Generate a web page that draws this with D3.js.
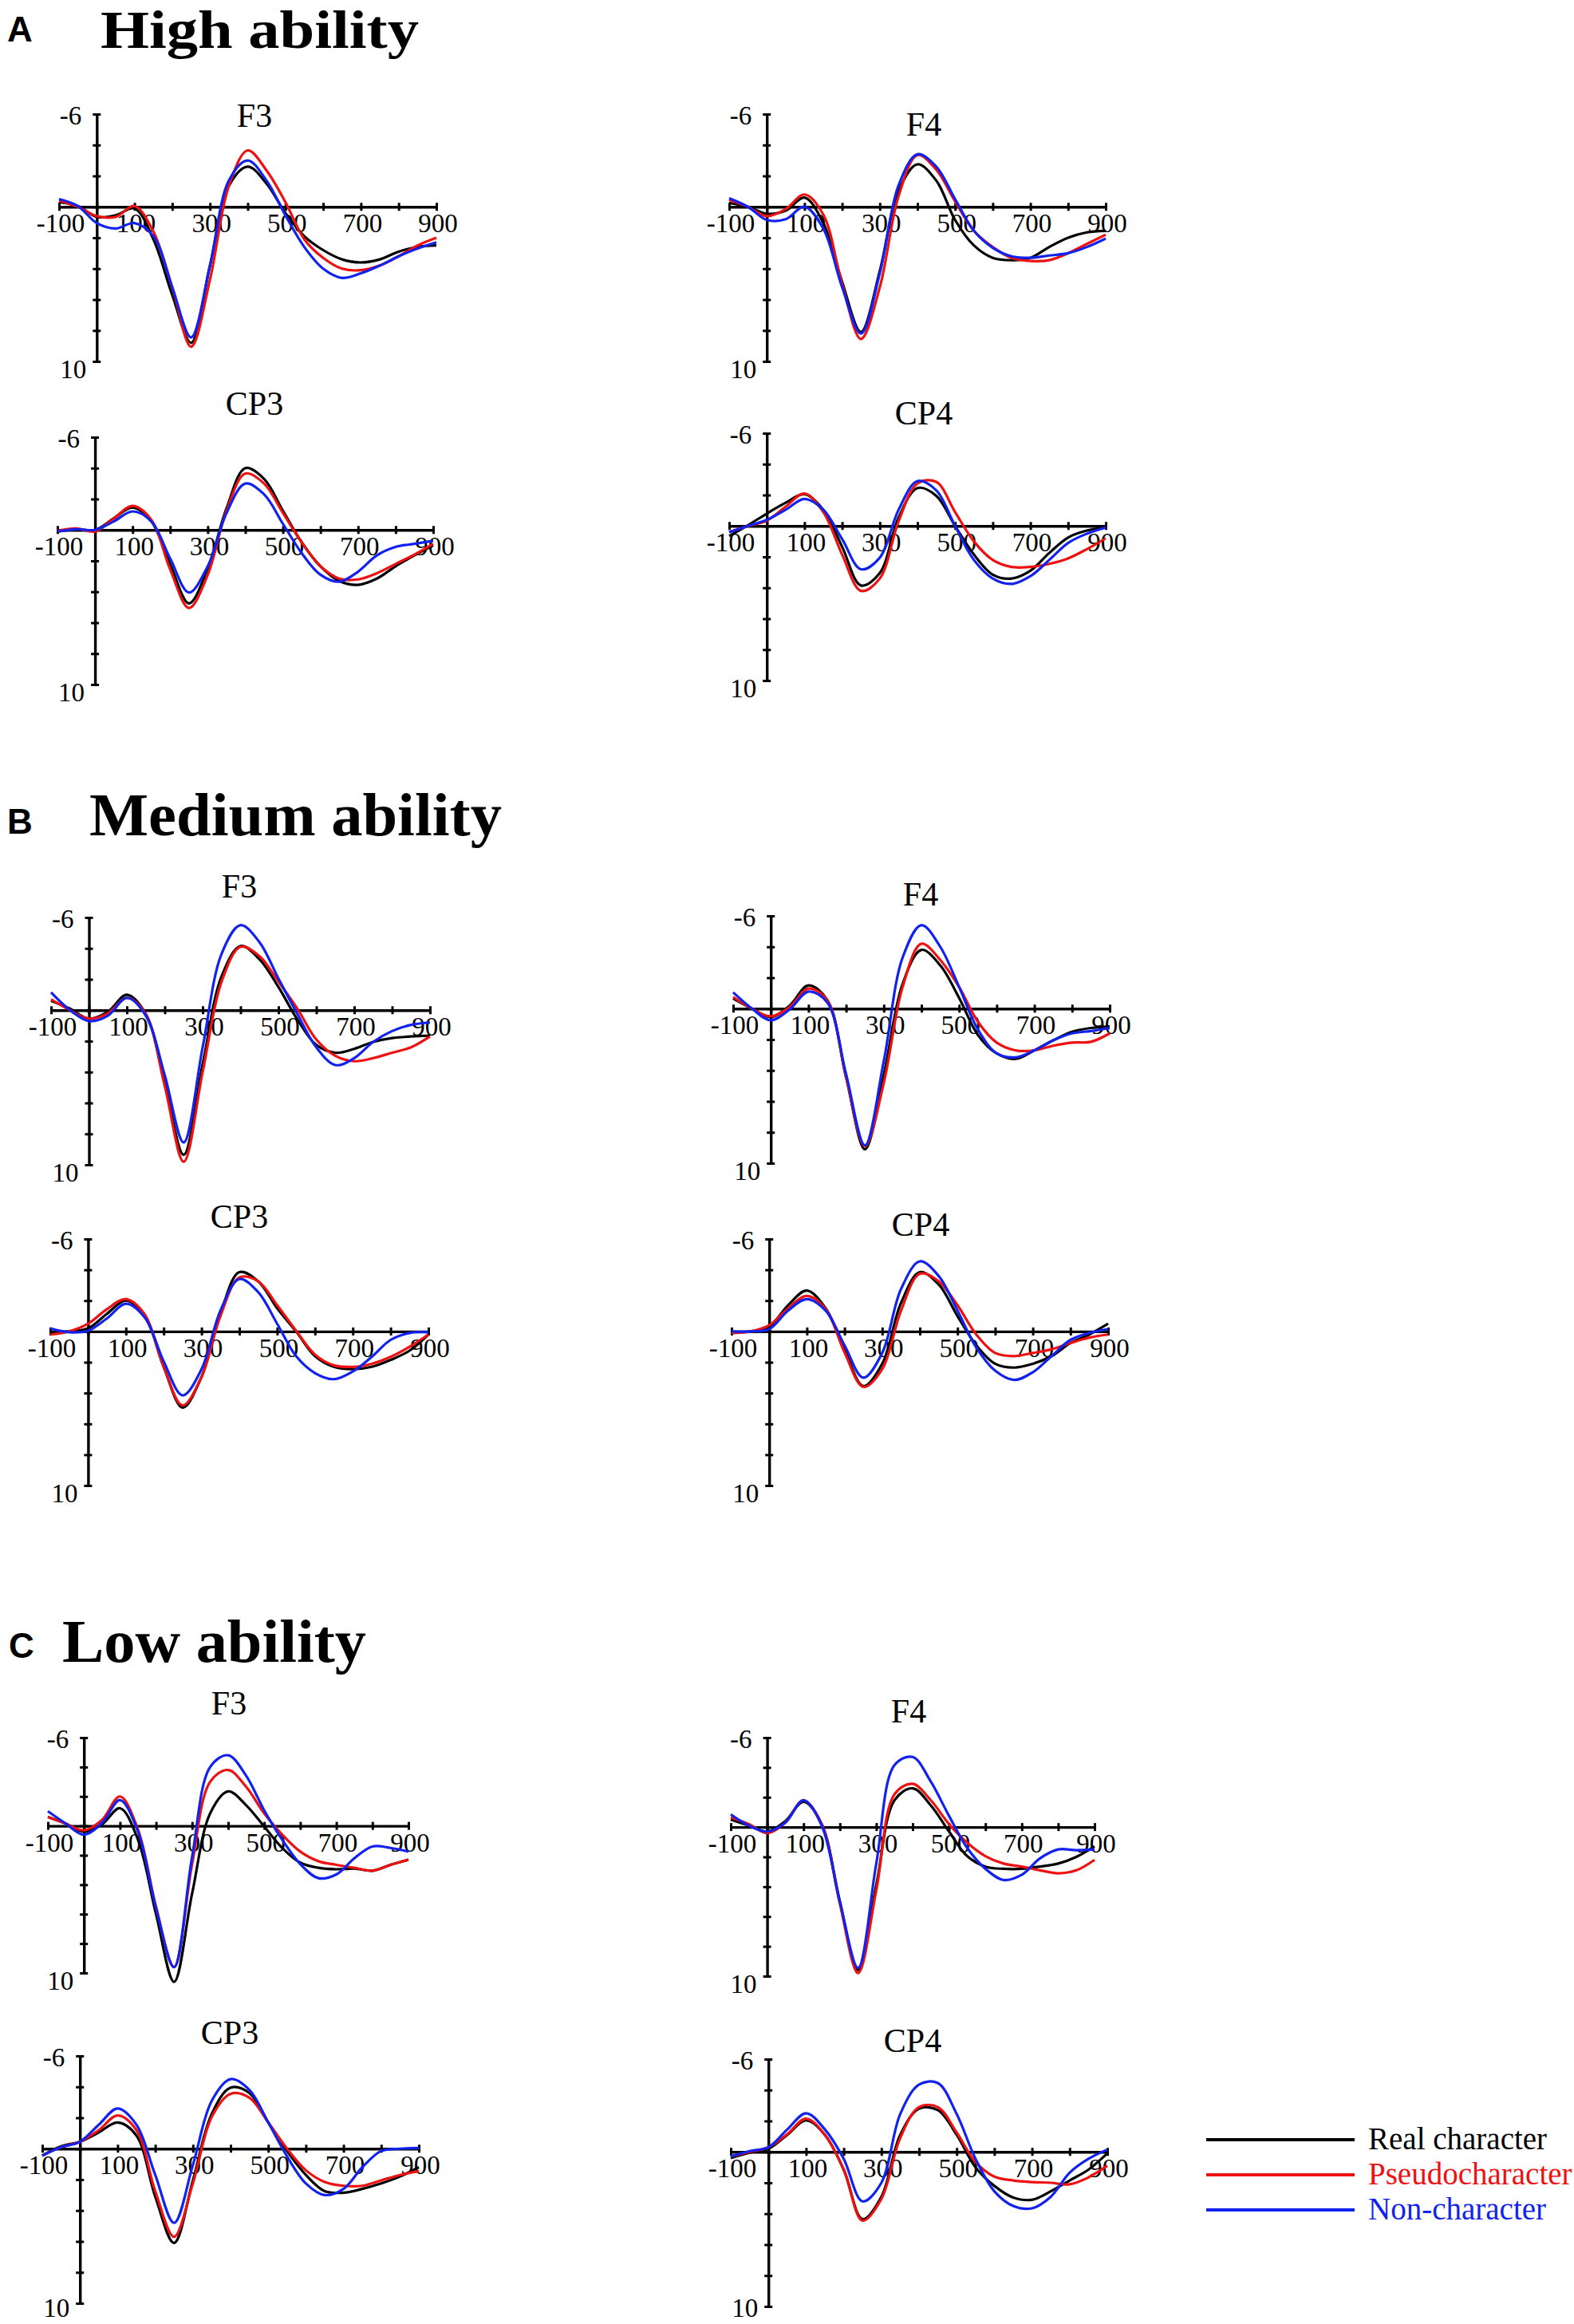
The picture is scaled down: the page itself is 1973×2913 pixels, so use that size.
<!DOCTYPE html>
<html>
<head>
<meta charset="utf-8">
<script src="https://cdn.jsdelivr.net/npm/d3@7"></script>
<style>
  body { margin: 0; background: #fff; }
  svg { display: block; }
</style>
</head>
<body>
<svg id="fig" width="1973" height="2913"></svg>
<script>
// sample times (ms) shared by every waveform
const times = [-100, -50, 0, 50, 100, 150, 200, 250, 300, 350, 400, 450, 500, 550, 600, 650, 700, 750, 800, 850, 900];
const conditions = ['Real character', 'Pseudocharacter', 'Non-character'];
const xTicks = [-100, 0, 100, 200, 300, 400, 500, 600, 700, 800, 900];
const xLabels = [-100, 100, 300, 500, 700, 900];
const yTicks = [-6, -4, -2, 0, 2, 4, 6, 8, 10];

// amplitudes (uV, negative up); rows = real, pseudo, non-character
const highF3 = [
  [-0.3, -0.05, 0.65, 0.55, 0.1, 2.1, 5.7, 8.8, 3.8, -1.35, -2.6, -1.5, 0.4, 1.9, 2.8, 3.4, 3.6, 3.4, 2.9, 2.6, 2.5],
  [-0.4, 0, 0.6, 0.65, -0.05, 1.6, 5.2, 9.05, 4.7, -1.35, -3.65, -2.35, -0.3, 2.1, 3.3, 4.0, 4.1, 3.8, 3.2, 2.5, 2.0],
  [-0.5, -0.05, 1.05, 1.4, 1.05, 1.9, 5.2, 8.45, 3.8, -1.7, -3.0, -1.7, 0.55, 2.6, 4.0, 4.6, 4.3, 3.8, 3.2, 2.7, 2.3]
];
const highF4 = [
  [-0.25, 0, 0.45, 0.25, -0.6, 1.05, 4.85, 8.1, 4.15, -1.05, -2.75, -1.7, 0.85, 2.5, 3.3, 3.45, 3.3, 2.6, 2.0, 1.65, 1.55],
  [-0.45, 0, 0.6, 0.15, -0.8, 0.5, 5.0, 8.55, 5.2, -0.7, -3.35, -2.4, -0.35, 1.55, 2.6, 3.3, 3.5, 3.45, 3.0, 2.4, 1.8],
  [-0.55, 0, 0.85, 0.8, 0, 1.4, 5.2, 8.2, 4.3, -1.4, -3.4, -2.6, -0.5, 1.55, 2.65, 3.2, 3.3, 3.15, 3.0, 2.6, 2.05]
];
const highCP3 = [
  [0.1, -0.05, 0, -0.75, -1.45, -0.55, 2.2, 4.75, 2.5, -1.4, -4.0, -3.3, -1.25, 0.8, 2.35, 3.3, 3.55, 3.15, 2.35, 1.65, 1.0],
  [0.05, -0.1, 0.1, -0.75, -1.55, -0.65, 2.55, 5.05, 2.9, -1.25, -3.65, -3.0, -1.1, 0.8, 2.35, 3.15, 3.2, 2.8, 2.2, 1.6, 0.9],
  [0.1, -0.05, 0, -0.55, -1.2, -0.55, 1.85, 4.05, 2.35, -1.1, -3.0, -2.3, -0.4, 1.5, 2.9, 3.35, 2.7, 1.65, 1.1, 0.9, 0.7]
];
const highCP4 = [
  [0.65, -0.05, -0.8, -1.5, -2.05, -1.05, 1.35, 3.85, 3.05, -0.55, -2.45, -1.95, 0, 1.85, 3.15, 3.4, 2.9, 1.75, 0.75, 0.3, 0.1],
  [0.4, 0, -0.35, -1.25, -2.1, -0.9, 1.85, 4.2, 3.4, -0.3, -2.75, -2.85, -0.9, 1.0, 2.2, 2.65, 2.65, 2.45, 2.1, 1.5, 0.8],
  [0.4, 0, -0.4, -1.05, -1.75, -1.05, 0.85, 2.8, 2.05, -1.05, -2.9, -2.3, 0, 2.2, 3.4, 3.75, 3.25, 2.2, 1.1, 0.5, 0.1]
];
const mediumF3 = [
  [-0.6, -0.1, 0.55, 0.1, -1.0, 0.25, 4.7, 9.35, 3.5, -2.2, -4.15, -3.3, -1.5, 0.6, 2.25, 2.75, 2.5, 2.05, 1.8, 1.7, 1.65],
  [-0.7, 0, 0.55, 0.2, -0.8, 0.25, 4.9, 9.8, 4.0, -1.85, -4.1, -3.5, -1.85, -0.1, 1.9, 2.95, 3.3, 3.1, 2.75, 2.4, 1.7],
  [-1.15, 0, 0.7, 0.35, -0.8, 0.35, 4.2, 8.55, 2.4, -3.65, -5.5, -4.4, -2.05, 0.25, 2.4, 3.55, 3.1, 2.05, 1.35, 0.95, 0.8]
];
const mediumF4 = [
  [-0.65, 0, 0.55, -0.2, -1.5, -0.55, 4.45, 9.1, 4.3, -1.6, -3.8, -2.8, -0.7, 1.7, 2.9, 3.25, 2.7, 2.05, 1.5, 1.25, 1.15],
  [-0.75, 0, 0.5, -0.1, -1.3, -0.55, 4.45, 8.9, 4.8, -1.4, -4.2, -3.15, -1.4, 0.85, 2.2, 2.7, 2.7, 2.4, 2.2, 2.15, 1.6],
  [-1.05, 0, 0.75, 0.05, -1.1, -0.4, 4.25, 8.85, 3.4, -3.3, -5.4, -4.0, -1.4, 1.35, 2.9, 3.15, 2.7, 2.05, 1.6, 1.45, 1.25]
];
const mediumCP3 = [
  [0.05, 0, -0.2, -1.15, -2.0, -1.0, 2.3, 4.95, 2.95, -1.15, -3.85, -3.25, -1.5, 0, 1.6, 2.3, 2.45, 2.3, 1.85, 1.25, 0.2],
  [0.2, 0, -0.5, -1.45, -2.1, -1.1, 2.3, 4.8, 2.95, -1.0, -3.5, -3.25, -1.7, -0.05, 1.5, 2.2, 2.3, 2.1, 1.65, 1.0, 0.2],
  [-0.2, 0.05, -0.05, -0.85, -1.8, -0.9, 1.95, 4.15, 2.45, -1.35, -3.4, -2.55, -0.5, 1.6, 2.7, 3.1, 2.6, 1.65, 0.55, 0.1, 0.05]
];
const mediumCP4 = [
  [0.05, 0, -0.3, -1.7, -2.65, -1.5, 1.15, 3.55, 2.1, -1.85, -3.85, -3.05, -1.0, 0.9, 2.1, 2.35, 2.1, 1.6, 0.75, 0.2, -0.5],
  [0.1, 0, -0.4, -1.5, -2.3, -1.45, 1.35, 3.6, 2.45, -1.35, -3.75, -3.25, -1.7, 0.2, 1.4, 1.6, 1.4, 1.15, 0.75, 0.4, 0.2],
  [0, 0, -0.15, -1.35, -2.1, -1.35, 0.9, 3.0, 1.4, -2.75, -4.55, -3.6, -1.35, 1.05, 2.55, 3.15, 2.65, 1.6, 0.55, 0.1, -0.15]
];
const lowF3 = [
  [-0.6, -0.15, 0.4, -0.1, -1.2, 0.95, 6.0, 10.6, 4.6, -0.85, -2.35, -1.4, 0.05, 1.5, 2.5, 2.85, 2.95, 2.9, 3.05, 2.65, 2.3],
  [-0.6, -0.15, 0.3, -0.4, -2.0, 0.25, 5.5, 9.6, 2.6, -3.0, -3.8, -2.65, -0.85, 0.6, 1.75, 2.4, 2.65, 2.85, 3.05, 2.65, 2.3],
  [-1.0, -0.15, 0.6, -0.2, -1.75, 0.4, 5.6, 9.6, 2.1, -4.0, -4.8, -3.4, -1.05, 0.95, 2.6, 3.55, 3.3, 2.2, 1.4, 1.5, 1.75]
];
const lowF4 = [
  [-0.5, -0.1, 0.3, -0.4, -1.7, -0.2, 5.0, 9.6, 3.9, -1.8, -2.6, -1.45, 0.3, 1.95, 2.65, 2.8, 2.8, 2.65, 2.45, 2.0, 1.3],
  [-0.65, -0.2, 0.4, -0.3, -1.8, -0.2, 5.15, 9.8, 4.25, -2.2, -2.9, -1.8, -0.2, 1.05, 1.95, 2.45, 2.65, 2.9, 3.1, 2.9, 2.2],
  [-0.85, -0.1, 0.3, -0.3, -1.8, -0.1, 5.0, 9.45, 2.45, -4.15, -4.7, -3.05, -0.75, 1.4, 2.8, 3.55, 3.2, 2.1, 1.5, 1.55, 1.5]
];
const lowCP3 = [
  [0.45, -0.15, -0.45, -1.05, -1.7, -0.85, 3.1, 6.1, 2.05, -2.25, -3.95, -3.6, -1.7, 0.15, 1.7, 2.75, 2.85, 2.6, 2.25, 1.8, 1.2],
  [0.45, -0.1, -0.45, -1.2, -2.15, -1.2, 2.75, 5.7, 2.25, -2.05, -3.55, -3.3, -1.7, 0, 1.4, 2.15, 2.4, 2.4, 2.05, 1.7, 1.45],
  [0.45, -0.1, -0.45, -1.55, -2.6, -1.55, 1.7, 4.8, 1.05, -3.1, -4.5, -3.8, -1.7, 0.5, 2.25, 3.0, 2.6, 1.2, 0.15, 0, -0.05]
];
const lowCP4 = [
  [0.4, 0.05, -0.2, -1.1, -2.05, -1.1, 1.15, 4.35, 2.9, -1.1, -2.8, -2.7, -1.1, 1.0, 2.2, 2.95, 3.1, 2.55, 1.85, 1.15, 0.1],
  [0.3, 0, -0.3, -1.15, -2.15, -1.1, 1.15, 4.45, 3.05, -0.9, -2.9, -2.9, -1.25, 0.65, 1.6, 1.85, 1.95, 2.0, 2.1, 1.65, 0.9],
  [0.3, -0.05, -0.3, -1.45, -2.5, -1.45, 0.45, 3.2, 2.0, -2.45, -4.35, -4.45, -2.45, 0.45, 2.55, 3.5, 3.65, 2.9, 1.35, 0.45, -0.15]
];

const colors = ['#000000', '#ee1111', '#1122ee'];

// where each panel sits on the page
const panels = [
  { data: highF3,    title: 'F3',  x0: 74,  x1: 547,  y0: 143,  y1: 453,  tx: 319,  ty: 159 },
  { data: highF4,    title: 'F4',  x0: 914, x1: 1386, y0: 143,  y1: 453,  tx: 1158, ty: 170 },
  { data: highCP3,   title: 'CP3', x0: 72,  x1: 543,  y0: 548,  y1: 858,  tx: 319,  ty: 520 },
  { data: highCP4,   title: 'CP4', x0: 914, x1: 1386, y0: 543,  y1: 853,  tx: 1158, ty: 532 },
  { data: mediumF3,  title: 'F3',  x0: 64,  x1: 539,  y0: 1150, y1: 1460, tx: 300,  ty: 1125 },
  { data: mediumF4,  title: 'F4',  x0: 919, x1: 1391, y0: 1148, y1: 1458, tx: 1154, ty: 1135 },
  { data: mediumCP3, title: 'CP3', x0: 63,  x1: 537,  y0: 1553, y1: 1862, tx: 300,  ty: 1539 },
  { data: mediumCP4, title: 'CP4', x0: 917, x1: 1389, y0: 1553, y1: 1862, tx: 1154, ty: 1549 },
  { data: lowF3,     title: 'F3',  x0: 60,  x1: 512,  y0: 2178, y1: 2473, tx: 287,  ty: 2149 },
  { data: lowF4,     title: 'F4',  x0: 916, x1: 1372, y0: 2178, y1: 2477, tx: 1139, ty: 2159 },
  { data: lowCP3,    title: 'CP3', x0: 53,  x1: 525,  y0: 2577, y1: 2887, tx: 288,  ty: 2562 },
  { data: lowCP4,    title: 'CP4', x0: 916, x1: 1388, y0: 2581, y1: 2891, tx: 1144, ty: 2572 }
];

const headings = [
  { letter: 'A', text: 'High ability',   lx: 9,  ly: 52,   hx: 126, hy: 60,   w: 399 },
  { letter: 'B', text: 'Medium ability', lx: 9,  ly: 1045, hx: 112, hy: 1047, w: 517 },
  { letter: 'C', text: 'Low ability',    lx: 11, ly: 2078, hx: 78,  hy: 2083, w: 381 }
];

const serif = '"Liberation Serif", "Times New Roman", serif';
const sans = '"Liberation Sans", Arial, sans-serif';

const svg = d3.select('#fig');
svg.append('rect').attr('width', 1973).attr('height', 2913).attr('fill', '#fff');

headings.forEach(h => {
  svg.append('text')
    .attr('x', h.lx).attr('y', h.ly)
    .attr('font-family', sans).attr('font-weight', 'bold').attr('font-size', 44)
    .text(h.letter);
  svg.append('text')
    .attr('x', h.hx).attr('y', h.hy)
    .attr('font-family', serif).attr('font-weight', 'bold')
    .attr('font-size', h.letter === 'A' ? 68 : 76)
    .attr('textLength', h.w).attr('lengthAdjust', 'spacingAndGlyphs')
    .text(h.text);
});

function drawPanel(p) {
  const x = d3.scaleLinear().domain([-100, 900]).range([p.x0, p.x1]);
  const y = d3.scaleLinear().domain([-6, 10]).range([p.y0, p.y1]);
  const g = svg.append('g');

  // x axis through zero, ticks crossing the line
  const xAxis = g.append('g')
    .attr('transform', `translate(0,${y(0)})`)
    .call(d3.axisBottom(x).tickValues(xTicks).tickSizeOuter(0).tickSize(0).tickFormat(''));
  xAxis.select('.domain').attr('stroke', '#000').attr('stroke-width', 3.4);
  xAxis.selectAll('.tick line').attr('y1', -5).attr('y2', 5).attr('stroke', '#000').attr('stroke-width', 3);

  // y axis at t = 0
  const yAxis = g.append('g')
    .attr('transform', `translate(${x(0)},0)`)
    .call(d3.axisLeft(y).tickValues(yTicks).tickSizeOuter(0).tickSize(0).tickFormat(''));
  yAxis.select('.domain').attr('stroke', '#000').attr('stroke-width', 3.4);
  yAxis.selectAll('.tick line').attr('x1', -5).attr('x2', 5).attr('stroke', '#000').attr('stroke-width', 3);

  g.selectAll('text.xl')
    .data(xLabels)
    .join('text')
    .attr('class', 'xl')
    .attr('x', d => x(d) + 2)
    .attr('y', y(0) + 32)
    .attr('text-anchor', 'middle')
    .attr('font-family', serif).attr('font-size', 33)
    .text(d => d);

  g.append('text')
    .attr('x', x(0) - 19).attr('y', y(-6) + 13)
    .attr('text-anchor', 'end')
    .attr('font-family', serif).attr('font-size', 33)
    .text('-6');
  g.append('text')
    .attr('x', x(0) - 13).attr('y', Math.min(y(10) + 21, 2904))
    .attr('text-anchor', 'end')
    .attr('font-family', serif).attr('font-size', 33)
    .text('10');

  g.append('text')
    .attr('x', p.tx).attr('y', p.ty)
    .attr('text-anchor', 'middle')
    .attr('font-family', serif).attr('font-size', 42)
    .text(p.title);

  const line = d3.line()
    .x((d, i) => x(times[i]))
    .y(d => y(d))
    .curve(d3.curveCatmullRom.alpha(0.5));

  g.selectAll('path.wave')
    .data(p.data)
    .join('path')
    .attr('class', 'wave')
    .attr('d', line)
    .attr('fill', 'none')
    .attr('stroke', (d, i) => colors[i])
    .attr('stroke-width', 3.2);
}

panels.forEach(drawPanel);

// legend
const legend = svg.append('g');
const legendY = d3.scalePoint().domain(conditions).range([2682, 2770]);
conditions.forEach((c, i) => {
  legend.append('line')
    .attr('x1', 1512).attr('x2', 1698)
    .attr('y1', legendY(c)).attr('y2', legendY(c))
    .attr('stroke', colors[i]).attr('stroke-width', 4);
  legend.append('text')
    .attr('x', 1715).attr('y', legendY(c) + 12)
    .attr('font-family', serif).attr('font-size', 39)
    .attr('fill', colors[i])
    .text(c);
});
</script>
</body>
</html>
